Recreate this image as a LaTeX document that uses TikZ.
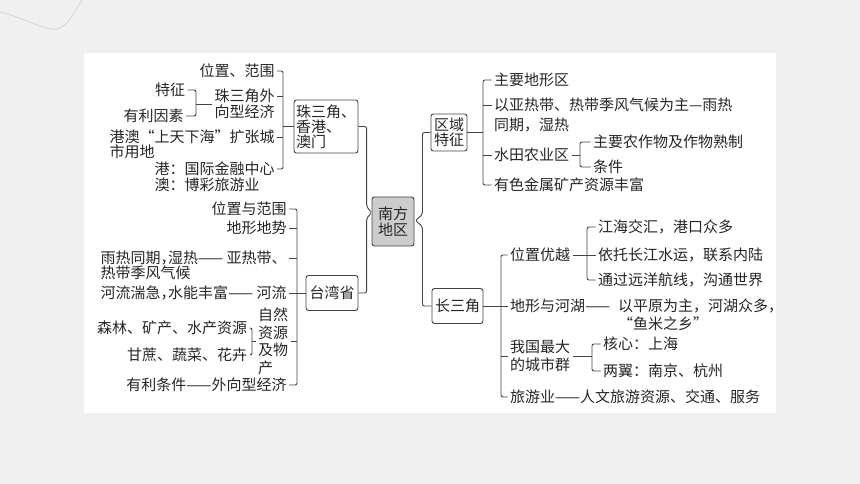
\documentclass[tikz,border=0pt]{standalone}
\usepackage{fontspec}
\newfontfamily\cjk{Noto Sans CJK SC}
\usepackage{tikz}
\usetikzlibrary{calc}
\tikzset{>=latex}
\definecolor{mygray1}{RGB}{240, 240, 240}
\definecolor{mygray2}{RGB}{204, 204, 204}
\definecolor{mygray3}{RGB}{216, 216, 216}
\definecolor{linegray}{RGB}{68, 68, 68}
\definecolor{textgray}{RGB}{38, 38, 38}
\newcommand{\hc}{\makebox[0.5em][l]{，}}
\newcommand{\ml}[2][16pt]{\vtop{\baselineskip=#1\halign{##\hfil\cr#2\crcr}}}
\begin{document}
\begin{tikzpicture}[x = 1pt, y = -1pt, line width = 0.9pt,
  every node/.style = {font = \cjk\fontsize{15}{16}\selectfont, text = textgray},
  txt/.style = {inner sep = 0pt, outer xsep = 2.5pt, outer ysep = 0pt, text height = 11.5pt, text depth = 0pt},
  box/.style = {draw = linegray, rounded corners = 2.5pt, inner sep = 1pt, align = center},
  line/.style = {draw = linegray, rounded corners = 2pt}]
\useasboundingbox (0,0) rectangle (860,484);
\fill[mygray1] (0,0) rectangle (860,484);
\draw[mygray3, line width = 1pt] (0,12) .. controls (25,18) and (45,31) .. (57,29) .. controls (68,27) and (75,10) .. (82,0);
\fill[white] (84,53) rectangle (776,413);
\node[box, fill = mygray2, minimum width = 42pt, minimum height = 49pt] (nf) at (393,221.5) {南方\\地区};
\node[box, align = left, minimum width = 64pt, minimum height = 53pt] (zb) at (326,126.5) {珠三角、\\[-1pt]香港、\\[-1pt]澳门};
\node[txt, anchor = east] (pf) at (277,71) {位置、范围};
\node[txt, anchor = east] (zw) at (277,96) {\ml{珠三角外\cr 向型经济}};
\node[txt, anchor = east] (tz) at (187.5,90) {特征};
\node[txt, anchor = east] (yl) at (186,116) {有利因素};
\node[txt, anchor = east] (ga) at (277,137) {\ml[15pt]{港澳“上天下海”扩张城\cr 市用地}};
\node[txt, anchor = east] (gj) at (277,169) {\ml{港：国际金融中心\cr 澳：博彩旅游业}};
\coordinate (s1) at (283,120);
\coordinate (s1b) at (196,103);
\coordinate (zwm) at ($(zw.west)+(0,8)$);
\draw[line] (pf.east) -| (s1) |- (gj.east);
\draw[line] (zw.east) -- (zw.east -| s1);
\draw[line] (ga.east) -- (ga.east -| s1);
\draw[line] (s1 |- zb.west) -- (zb.west);
\draw[line] (tz.east) -| (s1b) |- (yl.east);
\draw[line] (s1b |- zwm) -- (zwm);
\node[box, minimum width = 52pt, minimum height = 35pt] (tw) at (332,293) {台湾省};
\node[txt, anchor = east] (wy) at (289,209) {位置与范围};
\node[txt, anchor = east] (dd) at (289,228) {地形地势};
\node[txt, anchor = east] (yq) at (289,258) {\ml[15pt]{雨热同期\hc 湿热—— 亚热带、\cr 热带季风气候}};
\node[txt, anchor = east] (hl) at (289,293) {河流湍急\hc 水能丰富—— 河流};
\node[txt, anchor = east] (zr) at (290.5,315) {\ml[17.5pt]{自然\cr 资源\cr 及物\cr 产}};
\node[txt, anchor = east] (sl) at (249.5,328) {森林、矿产、水产资源};
\node[txt, anchor = east] (gz) at (249.5,355) {甘蔗、蔬菜、花卉};
\node[txt, anchor = east] (yt) at (289,385) {有利条件——外向型经济};
\coordinate (s2) at (297,300);
\coordinate (s2b) at (252,340);
\coordinate (zre) at ($(zr.east)+(0,26)$);
\coordinate (zrw) at ($(zr.west)+(0,26)$);
\draw[line] (wy.east) -| (s2) |- (yt.east);
\draw[line] (dd.east) -- (dd.east -| s2);
\draw[line] (yq.east) -- (yq.east -| s2);
\draw[line] (hl.east) -- (tw.west);
\draw[line] (zre) -- (zre -| s2);
\draw[line] (sl.east) -| (s2b) |- (gz.east);
\draw[line] (s2b |- zrw) -- (zrw);
\node[box, minimum width = 36pt, minimum height = 37pt] (qy) at (449,132.5) {区域\\[-1pt]特征};
\node[txt, anchor = west] (zyd) at (491.5,80) {主要地形区};
\node[txt, anchor = west] (yy) at (491.5,105) {\ml[20pt]{以亚热带、热带季风气候为主—雨热\cr 同期，湿热}};
\node[txt, anchor = west] (sn) at (491.5,155) {水田农业区};
\node[txt, anchor = west] (zn) at (590.5,142) {主要农作物及作物熟制};
\node[txt, anchor = west] (tj) at (590.5,167) {条件};
\node[txt, anchor = west] (ysj) at (491.5,185) {有色金属矿产资源丰富};
\coordinate (s3) at (483,130);
\coordinate (s4) at (580,155);
\draw[line] (zyd.west) -| (s3) |- (ysj.west);
\draw[line] (yy.west) -- (yy.west -| s3);
\draw[line] (sn.west) -- (sn.west -| s3);
\draw[line] (qy.east) -- (qy.east -| s3);
\draw[line] (zn.west) -| (s4) |- (tj.west);
\draw[line] (sn.east) -- (sn.east -| s4);
\node[box, minimum width = 51pt, minimum height = 35pt] (csj) at (457.5,306) {长三角};
\node[txt, anchor = west] (wzy) at (507.5,255) {位置优越};
\node[txt, anchor = west] (jh) at (595.5,227) {江海交汇，港口众多};
\node[txt, anchor = west] (yt2) at (595.5,255) {依托长江水运，联系内陆};
\node[txt, anchor = west] (tg) at (595.5,280) {通过远洋航线，沟通世界};
\node[txt, anchor = west] (dxh) at (507.5,306) {地形与河湖——};
\node[txt, anchor = west] (yp) at (615.5,306) {\ml[18pt]{以平原为主，河湖众多，\cr “鱼米之乡”}};
\node[txt, anchor = west] (wc) at (507.5,347) {\ml[18pt]{我国最大\cr 的城市群}};
\node[txt, anchor = west] (hx) at (600.5,344) {核心：上海};
\node[txt, anchor = west] (lyi) at (600.5,371) {两翼：南京、杭州};
\node[txt, anchor = west] (lyy) at (507.5,397) {旅游业——人文旅游资源、交通、服务};
\coordinate (s5) at (501,330);
\coordinate (s6) at (587,255);
\coordinate (s7) at (592,356);
\coordinate (wcw) at ($(wc.west)+(0,9)$);
\coordinate (wce) at ($(wc.east)+(0,9)$);
\draw[line] (wzy.west) -| (s5) |- (lyy.west);
\draw[line] (dxh.west) -- (dxh.west -| s5);
\draw[line] (wcw) -- (wcw -| s5);
\draw[line] (csj.east) -- (csj.east -| s5);
\draw[line] (jh.west) -| (s6) |- (tg.west);
\draw[line] (wzy.east) -- (yt2.west);
\draw[line] (hx.west) -| (s7) |- (lyi.west);
\draw[line] (wce) -- (wce -| s7);
\draw[line] (zb.east) -| ($(nf.west)+(-5,-15)$) -- ($(nf.west)+(0,-9)$) -- ($(nf.west)+(-5,-3)$) |- (tw.east);
\draw[line] (qy.west) -| ($(nf.east)+(8,-7)$) -- ($(nf.east)+(1,-1)$) -- ($(nf.east)+(8,5)$) |- (csj.west);
\end{tikzpicture}
\end{document}
